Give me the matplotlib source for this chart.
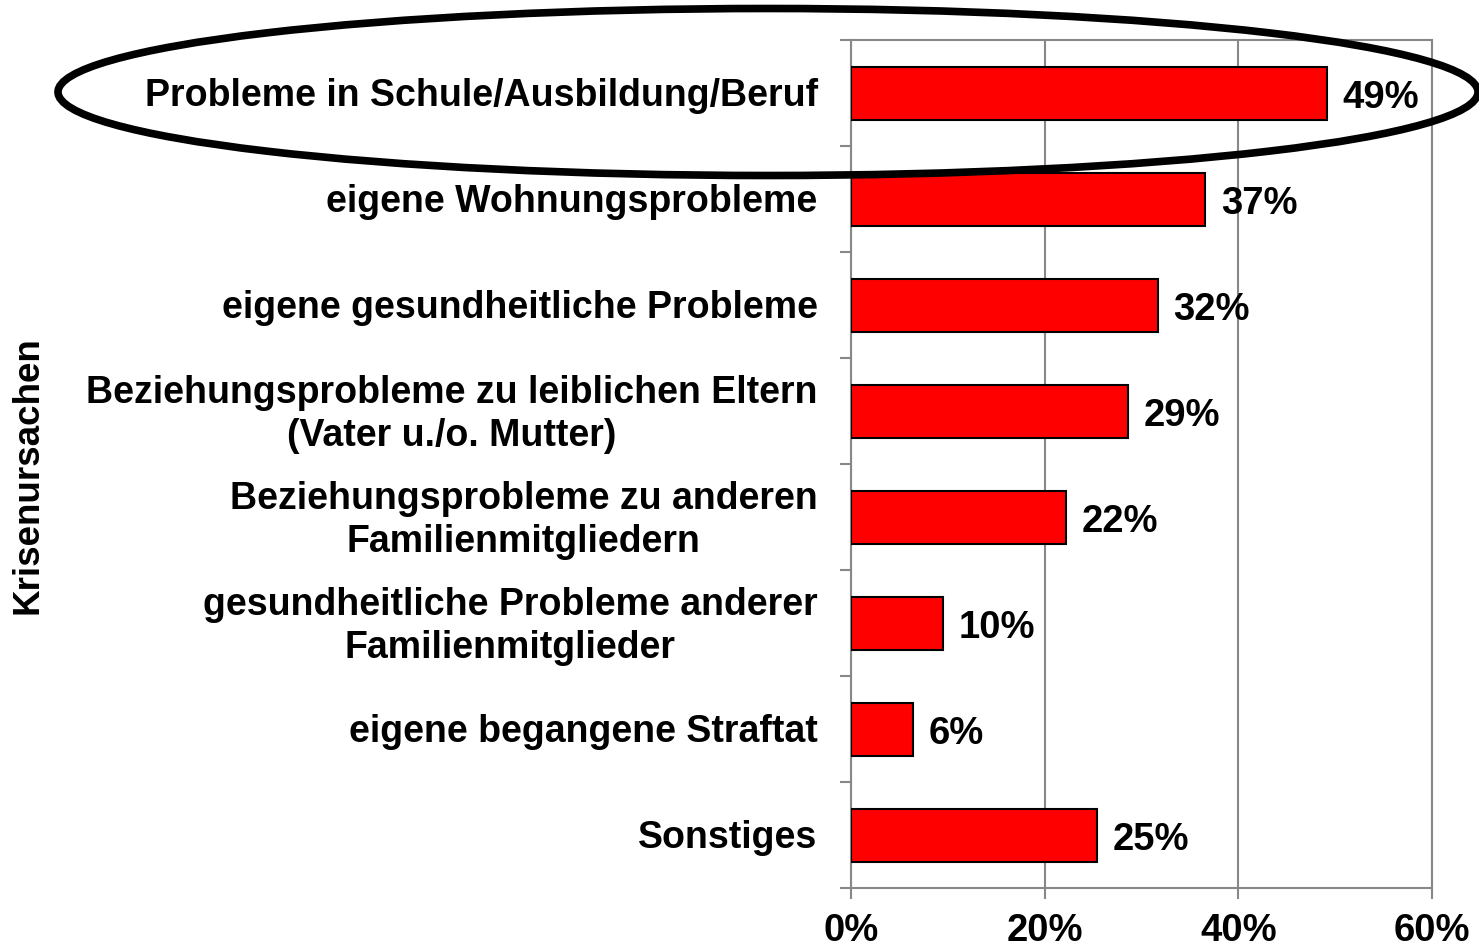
import matplotlib
matplotlib.use("Agg")
import matplotlib.pyplot as plt
from matplotlib.patches import Ellipse
import numpy as np

plt.rcParams['font.family'] = ['Liberation Sans', 'DejaVu Sans']
plt.rcParams['font.weight'] = 'bold'

categories = [
    "Probleme in Schule/Ausbildung/Beruf",
    "eigene Wohnungsprobleme",
    "eigene gesundheitliche Probleme",
    "Beziehungsprobleme zu leiblichen Eltern\n(Vater u./o. Mutter)",
    "Beziehungsprobleme zu anderen\nFamilienmitgliedern",
    "gesundheitliche Probleme anderer\nFamilienmitglieder",
    "eigene begangene Straftat",
    "Sonstiges",
]
values = [49.2, 36.6, 31.7, 28.6, 22.2, 9.5, 6.4, 25.4]
value_labels = ["49%", "37%", "32%", "29%", "22%", "10%", "6%", "25%"]
xticks = [0, 20, 40, 60]
xtick_labels = ["0%", "20%", "40%", "60%"]

W, H = 1479, 951
fig = plt.figure(figsize=(W / 100, H / 100), dpi=100)
ax = fig.add_axes([851 / W, 1 - 888 / H, (1432 - 851) / W, (888 - 40) / H])

y = np.arange(len(categories))
ax.barh(y, values, height=0.5, color='#ff0000', edgecolor='black', linewidth=1.5, zorder=3)
ax.set_ylim(len(categories) - 0.5, -0.5)
ax.set_xlim(0, 60)

for yi, v, lab in zip(y, values, value_labels):
    ax.annotate(lab, (v, yi), xytext=(11, -3.5), textcoords='offset points',
                ha='left', va='center', fontsize=27.5, fontweight='bold', zorder=4)

ax.set_xticks(xticks)
ax.set_xticklabels(xtick_labels, fontsize=27.5, fontweight='bold')
ax.tick_params(axis='x', length=8, width=1.5, color='#888888', pad=10, direction='out')

# category labels at bar centers, ticks at boundaries
ax.set_yticks(np.arange(len(categories) + 1) - 0.5)
ax.set_yticklabels([])
ax.tick_params(axis='y', length=8, width=1.5, color='#888888', direction='out')
for yi, c in zip(y, categories):
    ax.annotate(c, (0, yi), xytext=(-24, -2.5), textcoords='offset points',
                ha='right', va='center', multialignment='center',
                fontsize=27, fontweight='bold', linespacing=1.22)

ax.grid(axis='x', color='#888888', linewidth=1.5, zorder=0)
for s in ax.spines.values():
    s.set_color('#888888')
    s.set_linewidth(1.5)

fig.text(28 / W, 1 - 475 / H, "Krisenursachen", rotation=90, ha='center', va='center',
         fontsize=26.5, fontweight='bold')

ell = Ellipse((768 / W, 1 - 92 / H), 1420 / W, 167 / H, transform=fig.transFigure,
              fill=False, edgecolor='black', linewidth=5.5, zorder=10)
fig.patches.append(ell)

fig.savefig("out.png", dpi=100)
